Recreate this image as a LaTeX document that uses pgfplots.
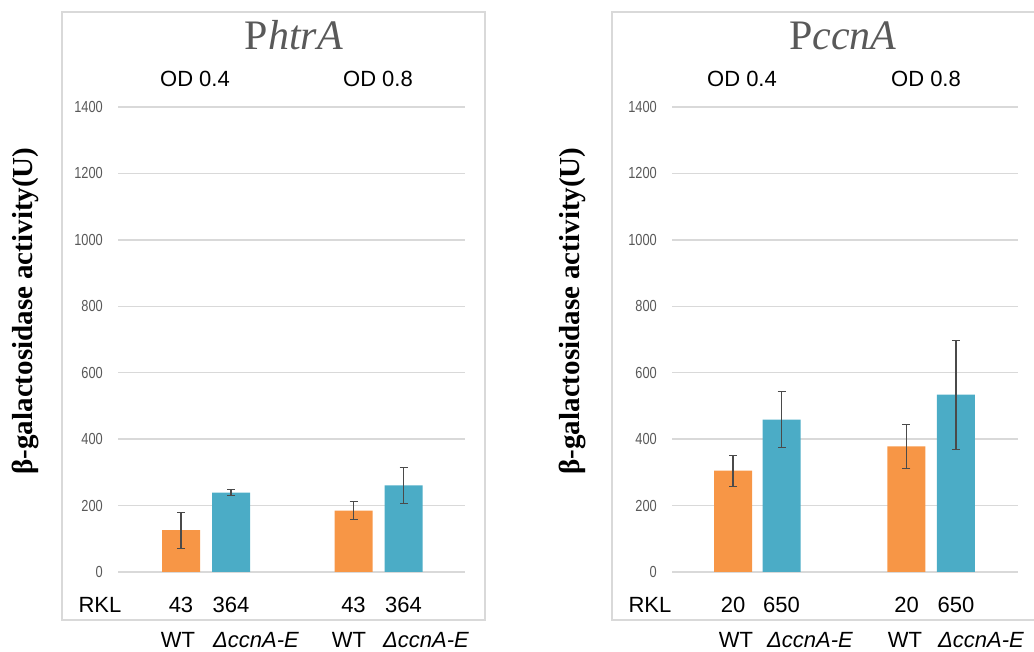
\documentclass[border=0pt]{standalone}
\usepackage{fontspec}
\setmainfont{Liberation Sans}
\newfontfamily\serifont{Liberation Serif}
\newfontfamily\tickfont[FakeStretch=0.8]{Liberation Sans}
\usepackage{pgfplots}
\pgfplotsset{compat=1.18}
\definecolor{barorange}{HTML}{F79646}
\definecolor{barblue}{HTML}{4BACC6}
\definecolor{gridgray}{HTML}{D9D9D9}
\definecolor{ticktext}{HTML}{595959}
\definecolor{errgray}{HTML}{4A4A4A}
\definecolor{titlegray}{HTML}{595959}
\pgfplotsset{
  panel/.style={
    scale only axis, width=347pt, height=465pt,
    ymin=0, ymax=1400, ytick={0,200,...,1400},
    ymajorgrids, grid style={gridgray, line width=1.4pt},
    axis line style={draw=none}, major tick length=0pt,
    xtick=\empty,
    yticklabel style={font=\tickfont\fontsize{16}{18}\selectfont, text=ticktext, inner sep=0pt, xshift=-15pt},
    /pgf/number format/assume math mode=true,
    /pgf/number format/1000 sep={},
    clip=false,
    ybar, bar width=38pt,
  },
  ebar/.style={bar shift=0pt, draw=none,
    error bars/.cd, y dir=both, y explicit,
    error bar style={errgray, line width=1.1pt},
    error mark options={errgray, line width=1.1pt, mark size=4pt, rotate=90}},
}
\begin{document}
\begin{tikzpicture}[x=1pt,y=1pt]
\useasboundingbox (0,0) rectangle (1034,652);
\draw[gridgray, line width=1.4pt] (62,32) rectangle (485,640);
\draw[gridgray, line width=1.4pt] (1040,32) -- (612,32) -- (612,640) -- (1040,640);

% Left panel: PhtrA
\begin{axis}[panel, at={(118pt,80pt)}, anchor=south west, xmin=-1.26, xmax=5.68]
\addplot[fill=barorange, ebar] coordinates {(0,126) +- (0,54) (3.45,185) +- (0,28)};
\addplot[fill=barblue, ebar] coordinates {(1,239) +- (0,10) (4.45,261) +- (0,54)};
\end{axis}

% Right panel: PccnA
\begin{axis}[panel, width=346pt, at={(672pt,80pt)}, anchor=south west, xmin=-1.245, xmax=5.816]
\addplot[fill=barorange, ebar] coordinates {(0,305) +- (0,47) (3.54,378) +- (0,66)};
\addplot[fill=barblue, ebar] coordinates {(0.99,459) +- (0,84) (4.55,534) +- (0,164)};
\end{axis}

% titles
\node[anchor=base, text=titlegray, font=\serifont\fontsize{42}{46}\selectfont] at (294,602) {P\textit{htrA}};
\node[anchor=base, text=titlegray, font=\serifont\fontsize{42}{46}\selectfont] at (843,602) {P\textit{ccnA}};

% y labels
\node[rotate=90, font=\serifont\bfseries\fontsize{29}{32}\selectfont] at (25,341) {β-galactosidase activity(U)};
\node[rotate=90, font=\serifont\bfseries\fontsize{29}{32}\selectfont] at (572,341) {β-galactosidase activity(U)};

% OD labels
\begin{scope}[every node/.style={anchor=base, font=\fontsize{22}{26}\selectfont}]
\node at (195,565) {OD 0.4};
\node at (378,565) {OD 0.8};
\node at (742,565) {OD 0.4};
\node at (926,565) {OD 0.8};
% RKL rows
\node at (100,39) {RKL};
\node at (181,39) {43};
\node at (231,39) {364};
\node at (353.5,39) {43};
\node at (403.5,39) {364};
\node at (650,39) {RKL};
\node at (733,39) {20};
\node at (781.5,39) {650};
\node at (906.5,39) {20};
\node at (956,39) {650};
\end{scope}
% genotype labels
\begin{scope}[every node/.style={anchor=base, inner sep=0pt, font=\fontsize{22}{26}\selectfont}]
\node at (178,4) {WT};
\node at (736,4) {WT};
\node at (349,4) {WT};
\node at (905,4) {WT};
\end{scope}
\begin{scope}[every node/.style={anchor=base west, inner sep=0pt, font=\itshape\fontsize{22}{26}\selectfont}]
\node at (213,4) {ΔccnA-E};
\node at (383,4) {ΔccnA-E};
\node at (767,4) {ΔccnA-E};
\node at (938,4) {ΔccnA-E};
\end{scope}
\end{tikzpicture}
\end{document}
